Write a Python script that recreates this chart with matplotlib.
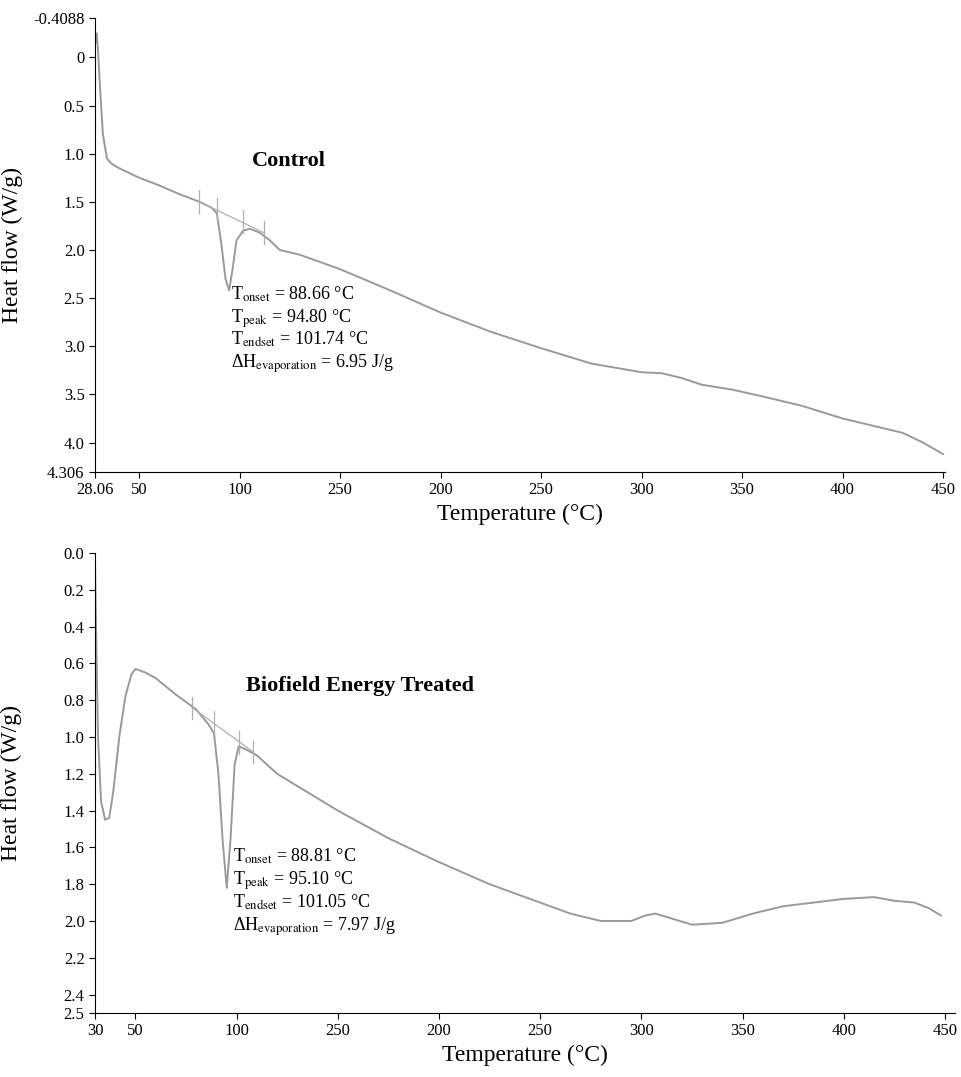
import matplotlib
matplotlib.use("Agg")
import matplotlib.pyplot as plt

plt.rcParams['font.family'] = ['Liberation Serif', 'DejaVu Serif']

# Control
ctrl_T = [28.3, 28.8, 29.5, 30.5, 32, 34, 36, 40, 50, 60, 70, 80, 86, 88.7, 91, 93, 94.8, 96.5, 98.5, 101.7, 105, 110, 115, 120, 130, 150, 175, 200, 225, 250, 275, 300, 310, 320, 330, 345, 360, 380, 400, 420, 430, 440, 450]
ctrl_H = [-0.15, -0.25, -0.1, 0.3, 0.8, 1.05, 1.1, 1.15, 1.25, 1.33, 1.42, 1.5, 1.56, 1.62, 1.95, 2.3, 2.42, 2.2, 1.9, 1.8, 1.78, 1.82, 1.9, 2.0, 2.05, 2.2, 2.42, 2.65, 2.85, 3.02, 3.18, 3.27, 3.28, 3.33, 3.4, 3.45, 3.52, 3.62, 3.75, 3.85, 3.9, 4.0, 4.12]
ctrl_yticks = [-0.4088, 0, 0.5, 1.0, 1.5, 2.0, 2.5, 3.0, 3.5, 4.0, 4.306]
ctrl_ylabels = ['-0.4088', '0', '0.5', '1.0', '1.5', '2.0', '2.5', '3.0', '3.5', '4.0', '4.306']
ctrl_xticks = [28.06, 50, 100, 150, 200, 250, 300, 350, 400, 450]
ctrl_xlabels = ['28.06', '50', '100', '250', '200', '250', '300', '350', '400', '450']
ctrl_text = ["T$_{\\mathrm{onset}}$ = 88.66 °C", "T$_{\\mathrm{peak}}$ = 94.80 °C",
             "T$_{\\mathrm{endset}}$ = 101.74 °C", "ΔH$_{\\mathrm{evaporation}}$ = 6.95 J/g"]

# Treated
trt_T = [30, 30.5, 31.5, 33, 35, 37, 39, 42, 45, 48, 50, 55, 60, 70, 80, 86, 88.8, 91, 93, 95.1, 97, 99, 101, 105, 110, 120, 135, 150, 175, 200, 225, 250, 265, 280, 295, 302, 307, 313, 325, 340, 355, 370, 385, 400, 415, 425, 435, 442, 448]
trt_H = [0.05, 0.4, 1.0, 1.35, 1.45, 1.44, 1.3, 1.0, 0.78, 0.66, 0.63, 0.65, 0.68, 0.77, 0.85, 0.93, 0.98, 1.2, 1.55, 1.82, 1.55, 1.15, 1.05, 1.07, 1.1, 1.2, 1.3, 1.4, 1.55, 1.68, 1.8, 1.9, 1.96, 2.0, 2.0, 1.97, 1.96, 1.98, 2.02, 2.01, 1.96, 1.92, 1.9, 1.88, 1.87, 1.89, 1.9, 1.93, 1.97]
trt_yticks = [0.0, 0.2, 0.4, 0.6, 0.8, 1.0, 1.2, 1.4, 1.6, 1.8, 2.0, 2.2, 2.4, 2.5]
trt_ylabels = ['0.0', '0.2', '0.4', '0.6', '0.8', '1.0', '1.2', '1.4', '1.6', '1.8', '2.0', '2.2', '2.4', '2.5']
trt_xticks = [30, 50, 100, 150, 200, 250, 300, 350, 400, 450]
trt_xlabels = ['30', '50', '100', '250', '200', '250', '300', '350', '400', '450']
trt_text = ["T$_{\\mathrm{onset}}$ = 88.81 °C", "T$_{\\mathrm{peak}}$ = 95.10 °C",
            "T$_{\\mathrm{endset}}$ = 101.05 °C", "ΔH$_{\\mathrm{evaporation}}$ = 7.97 J/g"]

ctrl_base_T = [80, 112]
ctrl_base_H = [1.5, 1.82]
trt_base_T = [78, 108]
trt_base_H = [0.84, 1.08]

plt.rcParams['mathtext.fontset'] = 'stix'
fig = plt.figure(figsize=(9.62, 10.77), dpi=100)
ax1 = fig.add_axes([95/962, 1 - 472/1077, (945-95)/962, (472-18)/1077])
ax2 = fig.add_axes([95/962, 1 - 1013/1077, (955-95)/962, (1013-553)/1077])

line_c = '#9a9a9a'
ax1.plot(ctrl_T, ctrl_H, color=line_c, lw=1.4)
ax1.plot(ctrl_base_T, ctrl_base_H, color='#b0b0b0', lw=0.9)
for t, h in zip([80, 88.66, 101.74, 112], [1.5, 1.58, 1.7, 1.82]):
    ax1.plot([t, t], [h - 0.12, h + 0.12], color='#b0b0b0', lw=0.9)
ax1.set_xlim(28.06, 451)
ax1.set_ylim(4.306, -0.4088)
ax1.set_yticks(ctrl_yticks, ctrl_ylabels)
ax1.set_xticks(ctrl_xticks, ctrl_xlabels)
ax1.set_ylabel('Heat flow (W/g)', fontsize=17)
ax1.set_xlabel('Temperature (°C)', fontsize=17)
ax1.text(0.185, 0.675, 'Control', transform=ax1.transAxes, fontsize=16, fontweight='bold')
for i, s in enumerate(ctrl_text):
    ax1.text(0.16, 0.38 - i * 0.05, s, transform=ax1.transAxes, fontsize=13)

ax2.plot(trt_T, trt_H, color=line_c, lw=1.4)
ax2.plot(trt_base_T, trt_base_H, color='#b0b0b0', lw=0.9)
for t, h in zip([78, 88.81, 101.05, 108], [0.84, 0.92, 1.03, 1.08]):
    ax2.plot([t, t], [h - 0.06, h + 0.06], color='#b0b0b0', lw=0.9)
ax2.set_xlim(30, 455)
ax2.set_ylim(2.5, 0.0)
ax2.set_yticks(trt_yticks, trt_ylabels)
ax2.set_xticks(trt_xticks, trt_xlabels)
ax2.set_ylabel('Heat flow (W/g)', fontsize=17)
ax2.set_xlabel('Temperature (°C)', fontsize=17)
ax2.text(0.175, 0.7, 'Biofield Energy Treated', transform=ax2.transAxes, fontsize=16, fontweight='bold')
for i, s in enumerate(trt_text):
    ax2.text(0.16, 0.33 - i * 0.05, s, transform=ax2.transAxes, fontsize=13)

for ax in (ax1, ax2):
    ax.spines['top'].set_visible(False)
    ax.spines['right'].set_visible(False)
    ax.tick_params(labelsize=12, direction='out', length=4)
    ax.yaxis.set_label_coords(-0.085, 0.5)

fig.savefig('out.png', dpi=100)
